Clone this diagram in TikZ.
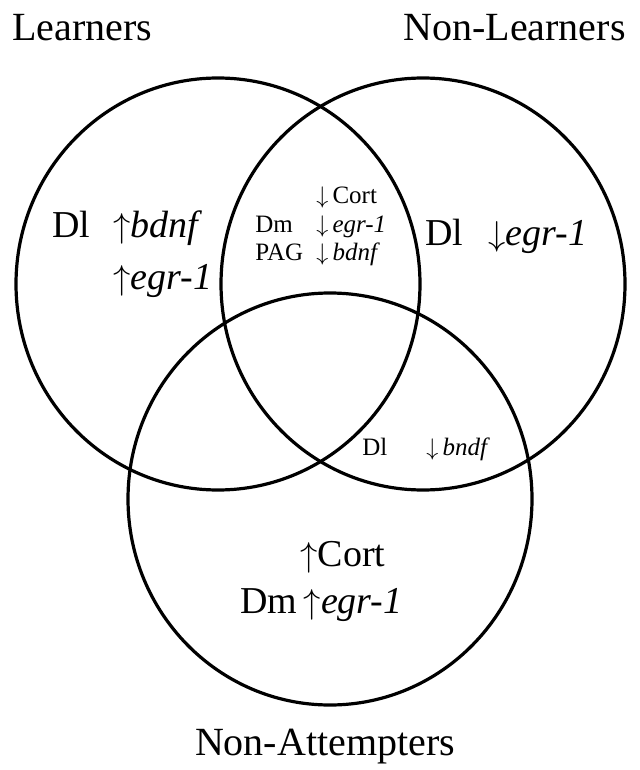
\documentclass[tikz,border=0pt]{standalone}
\usepackage{fontspec}
\setmainfont{Liberation Serif}
\newcommand{\upar}{\ensuremath{\uparrow}}
\newcommand{\dnar}{\ensuremath{\downarrow}}
\begin{document}
\begin{tikzpicture}[x=0.5pt,y=-0.5pt,
  ring/.style={draw=black,line width=1.6pt},
  title/.style={inner sep=0pt,font=\fontsize{20}{24}\selectfont},
  big/.style={inner sep=0pt,font=\fontsize{19}{23}\selectfont},
  small/.style={inner sep=0pt,font=\fontsize{12.5}{15}\selectfont}]
\useasboundingbox (0,0) rectangle (639,770);
% circles
\draw[ring] (218,284) ellipse [x radius=101pt,y radius=103pt];
\draw[ring] (423,284) ellipse [x radius=101pt,y radius=103pt];
\draw[ring] (330,499) ellipse [x radius=101pt,y radius=103pt];
% titles
\node[title,anchor=base west] (learn) at (12,41) {Learners};
\node[title,anchor=base east] (nonlearn) at (626,41) {Non-Learners};
\node[title,anchor=base] (nonatt) at (325,755) {Non-Attempters};
% Learners only
\node[big,anchor=base west] (ldl) at (52,237) {Dl};
\node[big,anchor=base west] (lbdnf) at (113,237) {\upar\textit{bdnf}};
\node[big,anchor=base west] (legr) at (113,289) {\upar\textit{egr-1}};
% Non-learners only
\node[big,anchor=base west] (rdl) at (425,245) {Dl};
\node[big,anchor=base west] (regr) at (488,245) {\dnar\textit{egr-1}};
% Learners & Non-learners
\node[small,anchor=base west] (ccort) at (316,204) {\dnar\,Cort};
\node[small,anchor=base west] (cdm) at (255,233) {Dm};
\node[small,anchor=base west] (cegr) at (316,233) {\dnar\,\textit{egr-1}};
\node[small,anchor=base west] (cpag) at (255,260) {PAG};
\node[small,anchor=base west] (cbdnf) at (316,260) {\dnar\,\textit{bdnf}};
% Non-learners & Non-attempters
\node[small,anchor=base west] (ndl) at (362,455) {Dl};
\node[small,anchor=base west] (nbndf) at (426,455) {\dnar\,\textit{bndf}};
% Non-attempters only
\node[big,anchor=base west] (bcort) at (300,566) {\upar Cort};
\node[big,anchor=base west] (bdm) at (240,613) {Dm\,\upar\textit{egr-1}};
\end{tikzpicture}
\end{document}
